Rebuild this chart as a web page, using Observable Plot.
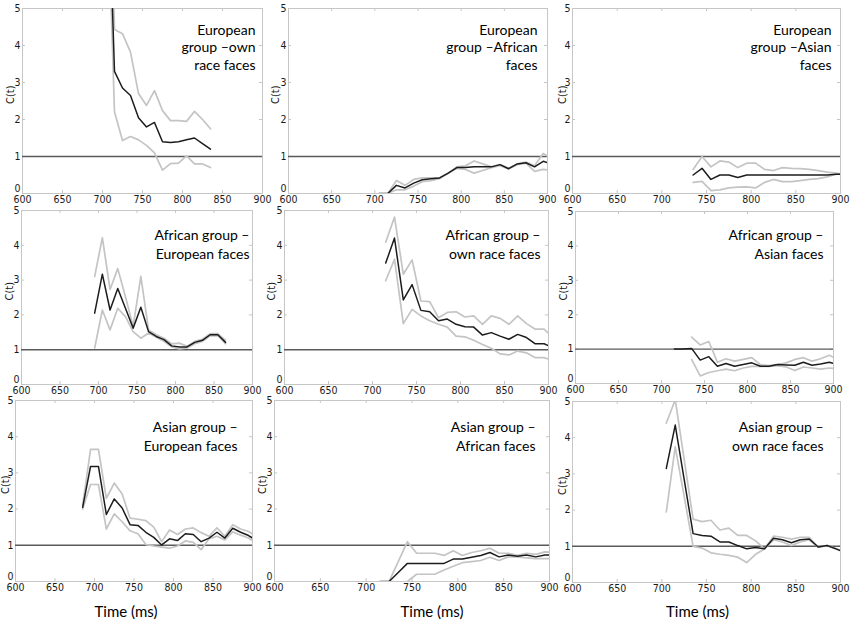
<!DOCTYPE html>
<html><head><meta charset="utf-8">
<script src="https://cdn.jsdelivr.net/npm/d3@7"></script>
<script src="https://cdn.jsdelivr.net/npm/@observablehq/plot@0.6"></script>
<style>
body{margin:0;background:#fff;}
#fig{position:relative;width:850px;height:622px;overflow:hidden;background:#fff;}
.panel{position:absolute;}
.panel svg{overflow:visible;background:transparent !important;max-width:none !important;}
</style></head><body><div id="fig"></div>
<script>
// Time points (ms)
const times = [685,695,705,715,725,735,745,755,765,775,785,795,805,815,825,835,845,855,865,875,885,895,905];
const xTicks = [600,650,700,750,800,850,900];
const yTicks = [0,1,2,3,4,5];
const _ = null;

// Panel titles
const titles = [
  "European\ngroup –own\nrace faces",
  "European\ngroup –African\nfaces",
  "European\ngroup –Asian\nfaces",
  "African group –\nEuropean faces",
  "African group –\nown race faces",
  "African group –\nAsian faces",
  "Asian group –\nEuropean faces",
  "Asian group –\nAfrican faces",
  "Asian group –\nown race faces"
];

// 1 European group – own race faces
const eurOwnMean  = [_,_,10,3.3,2.85,2.65,2.05,1.8,1.92,1.4,1.38,1.4,1.45,1.5,1.35,1.2,_,_,_,_,_,_,_];
const eurOwnUpper = [_,_,12,4.43,4.32,3.82,2.7,2.38,2.78,2.24,1.97,1.97,1.95,2.22,2.0,1.75,_,_,_,_,_,_,_];
const eurOwnLower = [_,_,9,2.2,1.43,1.54,1.45,1.3,1.1,0.63,0.81,0.82,1.02,0.8,0.8,0.7,_,_,_,_,_,_,_];
// 2 European group – African faces
const eurAfrMean  = [_,_,0,0,0.22,0.15,0.28,0.37,0.4,0.42,0.55,0.7,0.7,0.72,0.72,0.72,0.78,0.67,0.8,0.83,0.72,0.87,0.8];
const eurAfrUpper = [_,_,_,0,0.35,0.22,0.38,0.42,0.42,0.42,0.55,0.72,0.75,0.88,0.8,0.72,0.78,0.68,0.8,0.85,0.75,1.08,0.95];
const eurAfrLower = [_,_,_,0,0.1,0.1,0.2,0.32,0.35,0.4,0.55,0.68,0.65,0.55,0.62,0.7,0.75,0.66,0.78,0.82,0.6,0.65,0.62];
// 3 European group – Asian faces
const eurAsiMean  = [_,_,_,_,_,0.5,0.68,0.38,0.5,0.5,0.43,0.5,0.5,0.5,0.5,0.5,0.5,0.5,0.5,0.5,0.5,0.52,0.52];
const eurAsiUpper = [_,_,_,_,_,0.65,1.0,0.72,0.88,0.85,0.7,0.82,0.82,0.65,0.62,0.7,0.68,0.67,0.65,0.62,0.58,0.55,0.52];
const eurAsiLower = [_,_,_,_,_,0.3,0.33,0.08,0.1,0.15,0.17,0.18,0.15,0.3,0.38,0.32,0.32,0.35,0.38,0.4,0.45,0.52,0.52];
// 4 African group – European faces
const afrEurMean  = [_,2.05,3.17,2.14,2.76,2.19,1.62,2.22,1.52,1.38,1.29,1.11,1.08,1.08,1.21,1.27,1.43,1.43,1.21,_,_,_,_];
const afrEurUpper = [_,3.1,4.22,2.73,3.33,2.52,1.67,3.11,1.57,1.43,1.33,1.17,1.19,1.1,1.24,1.3,1.46,1.46,1.27,_,_,_,_];
const afrEurLower = [_,1.05,2.14,1.57,2.19,1.95,1.52,1.33,1.48,1.36,1.24,1.08,1.02,1.05,1.17,1.24,1.4,1.4,1.17,_,_,_,_];
// 5 African group – own race faces
const afrOwnMean  = [_,_,_,3.49,4.21,2.43,2.87,2.13,2.09,1.83,1.88,1.73,1.66,1.65,1.42,1.49,1.39,1.3,1.44,1.35,1.17,1.17,1.06];
const afrOwnUpper = [_,_,_,4.09,4.81,3.17,3.58,2.4,2.38,1.92,2.07,2.09,1.94,1.97,1.73,1.97,1.9,1.73,1.97,1.75,1.59,1.59,1.35];
const afrOwnLower = [_,_,_,2.98,3.6,1.75,2.16,1.97,1.83,1.73,1.65,1.39,1.37,1.27,1.15,1.04,0.88,0.85,0.96,0.91,0.77,0.77,0.69];
// 6 African group – Asian faces
const afrAsiMean  = [_,_,_,1.0,1.0,1.02,0.68,0.78,0.5,0.58,0.5,0.55,0.6,0.5,0.5,0.55,0.54,0.53,0.62,0.53,0.57,0.62,0.55];
const afrAsiUpper = [_,_,_,_,_,1.35,1.12,1.22,0.62,0.72,0.65,0.7,0.75,0.55,0.52,0.55,0.6,0.7,0.75,0.65,0.72,0.82,0.7];
const afrAsiLower = [_,_,_,_,_,0.7,0.22,0.32,0.37,0.42,0.37,0.45,0.5,0.5,0.5,0.52,0.48,0.38,0.48,0.45,0.42,0.45,0.42];
// 7 Asian group – European faces
const asiEurMean  = [2.05,3.18,3.18,1.85,2.28,2.03,1.57,1.55,1.36,1.22,1.01,1.18,1.13,1.32,1.3,1.1,1.2,1.36,1.2,1.47,1.36,1.27,1.13];
const asiEurUpper = [2.1,3.65,3.65,2.3,2.72,2.42,1.75,1.72,1.68,1.5,1.1,1.42,1.3,1.45,1.48,1.35,1.25,1.48,1.25,1.57,1.45,1.38,1.25];
const asiEurLower = [2.0,2.68,2.68,1.45,1.87,1.65,1.4,1.32,1.02,0.98,0.95,0.92,0.98,1.12,1.08,0.88,1.18,1.25,1.15,1.37,1.28,1.2,1.05];
// 8 Asian group – African faces
const asiAfrMean  = [_,_,_,0,0,0.25,0.5,0.5,0.5,0.5,0.5,0.62,0.62,0.67,0.72,0.8,0.68,0.73,0.7,0.73,0.68,0.73,0.73];
const asiAfrUpper = [_,_,_,_,0,0.55,1.1,0.78,0.78,0.78,0.72,0.85,0.72,0.8,0.85,0.92,0.78,0.78,0.72,0.78,0.75,0.82,0.8];
const asiAfrLower = [_,_,_,_,_,_,0,0.2,0.2,0.2,0.32,0.42,0.52,0.55,0.58,0.67,0.58,0.68,0.68,0.65,0.63,0.63,0.63];
// 9 Asian group – own race faces
const asiOwnMean  = [_,_,3.15,4.35,2.85,1.35,1.3,1.28,1.12,1.12,1.02,0.93,0.97,0.93,1.22,1.18,1.1,1.18,1.2,0.98,1.02,0.93,0.83];
const asiOwnUpper = [_,_,4.4,5.05,3.4,1.75,1.68,1.72,1.45,1.5,1.3,1.3,1.15,0.93,1.28,1.25,1.2,1.25,1.25,0.98,1.02,0.93,0.83];
const asiOwnLower = [_,_,1.95,3.75,2.38,1.0,0.95,0.82,0.78,0.75,0.7,0.55,0.78,0.93,1.18,1.12,1.02,1.12,1.18,0.98,1.02,0.93,0.83];

const series = [
  [eurOwnMean, eurOwnUpper, eurOwnLower],
  [eurAfrMean, eurAfrUpper, eurAfrLower],
  [eurAsiMean, eurAsiUpper, eurAsiLower],
  [afrEurMean, afrEurUpper, afrEurLower],
  [afrOwnMean, afrOwnUpper, afrOwnLower],
  [afrAsiMean, afrAsiUpper, afrAsiLower],
  [asiEurMean, asiEurUpper, asiEurLower],
  [asiAfrMean, asiAfrUpper, asiAfrLower],
  [asiOwnMean, asiOwnUpper, asiOwnLower]
];

// Layout (frame boxes in page pixels: left, top, right, bottom) and text offsets
const layout = [
  {box:[22,8,262,193],   tdx:-7,  tdy:14, lh:1.25, cdx:-12, xdx:0},
  {box:[288,8,547,193],  tdx:-10, tdy:14, lh:1.25, cdx:-13, xdx:0},
  {box:[572,8,840,193],  tdx:-9,  tdy:14, lh:1.25, cdx:-10, xdx:0},
  {box:[21,210,252,384], tdx:-3,  tdy:16, lh:1.34, cdx:-12, xdx:0},
  {box:[284,210,548,384],tdx:-8,  tdy:16, lh:1.34, cdx:-13, xdx:0},
  {box:[575,211,833,383],tdx:-10, tdy:15, lh:1.34, cdx:-12, xdx:0},
  {box:[15,400,252,581], tdx:-15, tdy:19, lh:1.3,  cdx:-10, xdx:-8},
  {box:[274,400,549,581],tdx:-14, tdy:19, lh:1.3,  cdx:-12, xdx:20},
  {box:[572,401,840,582],tdx:-17, tdy:18, lh:1.3,  cdx:-10, xdx:-9}
];

const tickFont = "'Liberation Sans Narrow','Arial Narrow','DejaVu Sans Condensed',sans-serif";
const titleFont = "Lato, 'Open Sans', sans-serif";
const fig = document.getElementById("fig");

layout.forEach((lay, i) => {
  const [L, T, R, B] = lay.box;
  const bottomRow = i >= 6;
  const mL = 34, mR = 8, mT = 8, mB = bottomRow ? 42 : 20;
  const pw = R - L, ph = B - T;
  const [mean, upper, lower] = series[i];
  const rows = times.map((t, k) => ({t, mean: mean[k], upper: upper[k], lower: lower[k]}));
  const gridGrey = "#c6c6c6";
  const tickText = {tickSize: 0, label: null, fill: "#1a1a1a", fontSize: 10.5, fontFamily: tickFont};
  const marks = [
    Plot.frame({stroke: gridGrey, strokeWidth: 1}),
    // inward ticks (bottom, top, left, right)
    Plot.tickX(xTicks.slice(1, -1), {x: d => d, stroke: gridGrey, insetTop: ph - 3}),
    Plot.tickX(xTicks.slice(1, -1), {x: d => d, stroke: gridGrey, insetBottom: ph - 3}),
    Plot.tickY(yTicks.slice(1, -1), {y: d => d, stroke: gridGrey, insetRight: pw - 3}),
    Plot.tickY(yTicks.slice(1, -1), {y: d => d, stroke: gridGrey, insetLeft: pw - 3}),
    Plot.axisX(xTicks, {anchor: "bottom", tickPadding: 2.5, ...tickText}),
    Plot.axisY(yTicks.slice(1), {anchor: "left", tickPadding: 2, ...tickText}),
    Plot.axisY(yTicks.slice(0, 1), {anchor: "left", tickPadding: 2, dy: -5, ...tickText}),
    Plot.ruleY([1], {stroke: "#5a5a5a", strokeWidth: 1.4}),
    Plot.line(rows, {x: "t", y: "upper", stroke: "#c4c4c4", strokeWidth: 1.7, clip: true}),
    Plot.line(rows, {x: "t", y: "lower", stroke: "#c4c4c4", strokeWidth: 1.7, clip: true}),
    Plot.line(rows, {x: "t", y: "mean", stroke: "#1c1c1c", strokeWidth: 1.5, clip: true}),
    Plot.text([titles[i]], {text: d => d, frameAnchor: "top-right", textAnchor: "end", lineAnchor: "top",
      dx: lay.tdx, dy: lay.tdy, fontSize: 14, lineHeight: lay.lh, fontFamily: titleFont, fill: "#000"}),
    Plot.text(["C(t)"], {text: d => d, frameAnchor: "left", rotate: -90, dx: lay.cdx, dy: 3,
      fontSize: 11, fontFamily: tickFont, fill: "#1a1a1a"})
  ];
  if (bottomRow) {
    marks.push(Plot.text(["Time (ms)"], {text: d => d, frameAnchor: "bottom", dx: lay.xdx, dy: 612 - B,
      lineAnchor: "middle", fontSize: 15, fontFamily: titleFont, fill: "#000"}));
  }
  const chart = Plot.plot({
    width: pw + mL + mR, height: ph + mT + mB,
    marginLeft: mL, marginRight: mR, marginTop: mT, marginBottom: mB,
    x: {domain: [600, 900]}, y: {domain: [0, 5]},
    style: {background: "transparent", overflow: "visible"},
    marks
  });
  const div = document.createElement("div");
  div.className = "panel";
  div.style.left = (L - mL) + "px";
  div.style.top = (T - mT) + "px";
  div.appendChild(chart);
  fig.appendChild(div);
});
</script></body></html>
